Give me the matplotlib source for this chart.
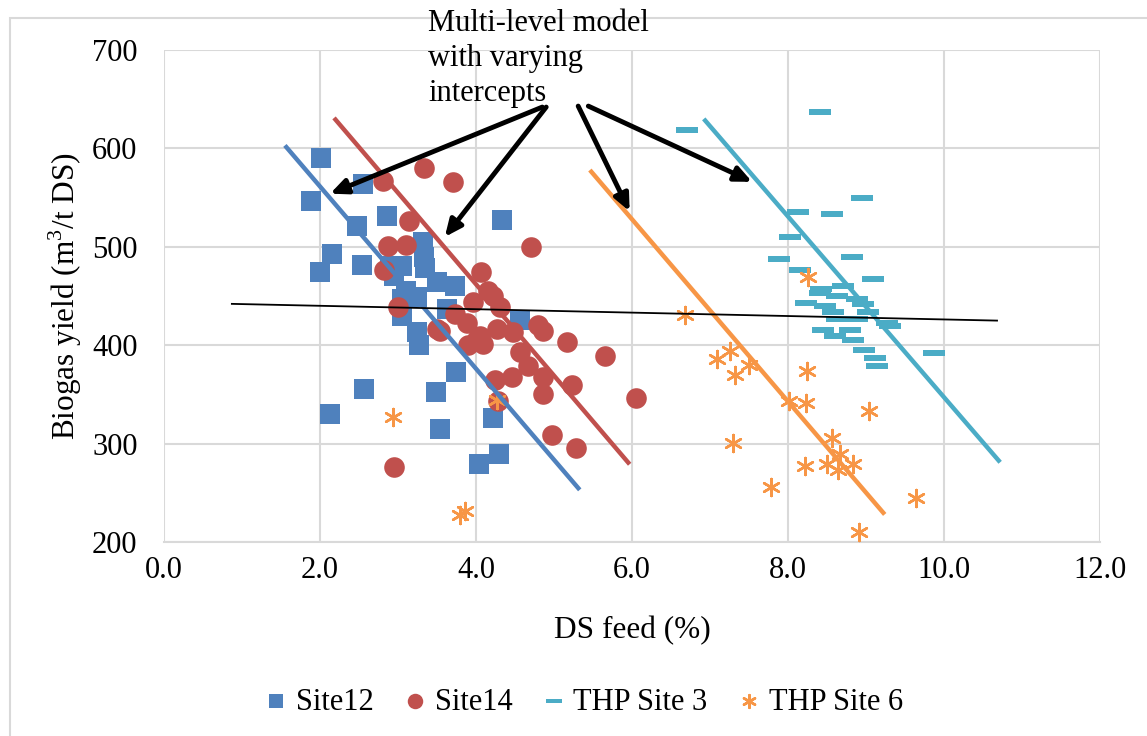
import matplotlib
matplotlib.use("Agg")
import matplotlib.pyplot as plt
from matplotlib.patches import Rectangle

plt.rcParams['font.family'] = ['Liberation Serif', 'DejaVu Serif']
plt.rcParams['mathtext.fontset'] = 'custom'
plt.rcParams['mathtext.rm'] = 'Liberation Serif'

# ---- data ----
site12_x = [2.01, 1.88, 2.55, 2.86, 2.47, 4.33, 2.15, 2.00, 2.54, 2.90, 3.05, 3.32, 3.33, 3.35, 3.50,
            3.73, 3.05, 3.24, 3.05, 3.24, 3.27, 4.56, 3.63, 2.13, 2.56, 3.49, 3.74, 3.54, 4.22, 4.29,
            4.04, 2.95, 3.10]
site12_y = [590, 547, 564, 531, 521, 527, 493, 474, 481, 480, 480, 505, 490, 478, 464,
            460, 447, 449, 430, 413, 400, 426, 437, 330, 355, 352, 373, 315, 326, 289,
            279, 470, 455]

site14_x = [3.33, 3.71, 2.81, 3.14, 2.87, 3.10, 4.71, 2.82, 4.06, 4.22, 4.31, 3.96, 3.00, 3.73, 3.88,
            3.50, 4.05, 4.27, 4.47, 4.79, 4.86, 3.54, 4.01, 4.09, 5.17, 5.65, 4.56, 4.67, 4.86, 4.46,
            4.24, 5.23, 4.86, 4.28, 4.97, 5.28, 2.95, 6.05, 4.15, 3.90]
site14_y = [580, 566, 567, 526, 501, 502, 500, 476, 474, 450, 439, 444, 439, 432, 423,
            416, 409, 416, 413, 421, 414, 414, 406, 401, 403, 389, 393, 379, 368, 368,
            365, 360, 350, 343, 309, 296, 276, 346, 455, 400]

thp3_x = [6.71, 8.41, 8.95, 8.13, 8.56, 8.03, 7.88, 8.82, 8.15, 9.09, 8.42, 8.71, 8.41, 8.23, 8.63,
          8.88, 8.96, 8.47, 8.58, 9.03, 8.63, 8.88, 9.27, 9.31, 8.45, 8.79, 8.60, 8.83, 8.97, 9.12,
          9.14, 9.87]
thp3_y = [619, 637, 550, 535, 533, 510, 488, 490, 476, 467, 457, 460, 453, 443, 450,
          447, 442, 440, 434, 434, 427, 427, 423, 420, 415, 415, 409, 405, 395, 387,
          379, 392]

thp6_x = [6.68, 7.09, 7.26, 7.32, 7.50, 8.24, 8.01, 8.23, 9.04, 7.29, 8.56, 8.67, 8.22, 8.50, 8.64,
          8.83, 7.78, 9.64, 8.91, 8.26, 2.94, 3.79, 3.86, 4.27]
thp6_y = [431, 386, 394, 370, 380, 374, 343, 341, 333, 301, 306, 289, 277, 279, 273,
          279, 256, 245, 210, 469, 327, 227, 231, 344]

# model lines (endpoints)
line12_x, line12_y = [1.55, 5.33], [603, 253]
line14_x, line14_y = [2.18, 5.97], [631, 279]
line3_x, line3_y = [6.92, 10.72], [630, 281]
line6_x, line6_y = [5.46, 9.24], [578, 228]
pooled_x, pooled_y = [0.87, 10.68], [442, 425]

annot_text = "Multi-level model\nwith varying\nintercepts"
annot_src = [(4.85, 642), (4.90, 642), (5.31, 643), (5.44, 643)]
annot_dst = [(2.13, 554), (3.60, 510), (5.97, 536), (7.54, 566)]

c_blue = '#4F81BD'
c_red = '#C0504D'
c_teal = '#4BACC6'
c_orange = '#F79646'

fig = plt.figure(figsize=(11.47, 7.36), dpi=100)
ax = fig.add_axes([164/1147, 1 - 542/736, (1100-164)/1147, (542-50)/736])

# outer chart border
fig.patches.append(Rectangle((10/1147, -0.02), 1.2, 1 - 18/736 + 0.02, transform=fig.transFigure,
                             fill=False, edgecolor='#d9d9d9', linewidth=1.5))

dash = [(-1, -0.28), (1, -0.28), (1, 0.28), (-1, 0.28), (-1, -0.28)]

ax.scatter(site12_x, site12_y, marker='s', s=190, color=c_blue, label='Site12', zorder=3, linewidths=0)
ax.scatter(site14_x, site14_y, marker='o', s=220, color=c_red, label='Site14', zorder=3, linewidths=0)
ax.scatter(thp3_x, thp3_y, marker=dash, s=260, color=c_teal, label='THP Site 3', zorder=3, linewidths=0)
ax.scatter(thp6_x, thp6_y, marker=(6, 2, 0), s=150, color=c_orange, label='THP Site 6', zorder=3, linewidths=1.8)

ax.plot(line12_x, line12_y, color=c_blue, lw=3.2, zorder=4, solid_capstyle='butt')
ax.plot(line14_x, line14_y, color=c_red, lw=3.2, zorder=4, solid_capstyle='butt')
ax.plot(line3_x, line3_y, color=c_teal, lw=3.2, zorder=4, solid_capstyle='butt')
ax.plot(line6_x, line6_y, color=c_orange, lw=3.2, zorder=4, solid_capstyle='butt')
ax.plot(pooled_x, pooled_y, color='black', lw=1.3, zorder=4)

for (sx, sy), (dx, dy) in zip(annot_src, annot_dst):
    ax.annotate('', xy=(dx, dy), xytext=(sx, sy), xycoords='data', textcoords='data',
                arrowprops=dict(arrowstyle='-|>,head_length=1.0,head_width=0.45', color='black',
                                lw=3.5, shrinkA=0, shrinkB=0), annotation_clip=False, zorder=6)

fig.text(428/1147, 1 - 9/736, annot_text, ha='left', va='top', fontsize=22,
         linespacing=1.27, color='black')

ax.set_xlim(0, 12)
ax.set_ylim(200, 700)
ax.set_xticks([0, 2, 4, 6, 8, 10, 12])
ax.set_xticklabels(['0.0', '2.0', '4.0', '6.0', '8.0', '10.0', '12.0'])
ax.set_yticks([200, 300, 400, 500, 600, 700])
ax.tick_params(axis='y', labelsize=22, length=0, pad=19)
ax.tick_params(axis='x', labelsize=22, length=0, pad=10)
ax.grid(True, color='#d9d9d9', linewidth=1.5, zorder=0)
ax.set_axisbelow(True)
for s in ['top', 'right', 'left']:
    ax.spines[s].set_visible(False)
ax.spines['bottom'].set_color('#d9d9d9')
ax.spines['bottom'].set_linewidth(1.5)

ax.set_xlabel('DS feed (%)', fontsize=22.5, labelpad=22)
ax.set_ylabel('Biogas yield (m$^3$/t DS)', fontsize=22.5, labelpad=6)

leg = fig.legend(loc='center', bbox_to_anchor=(584/1147, 1 - 702/736), ncol=4, frameon=False,
                 fontsize=22, handlelength=0.7, handletextpad=0.3, columnspacing=1.0,
                 markerscale=0.75, borderaxespad=0)

fig.savefig('out.png', dpi=100)
